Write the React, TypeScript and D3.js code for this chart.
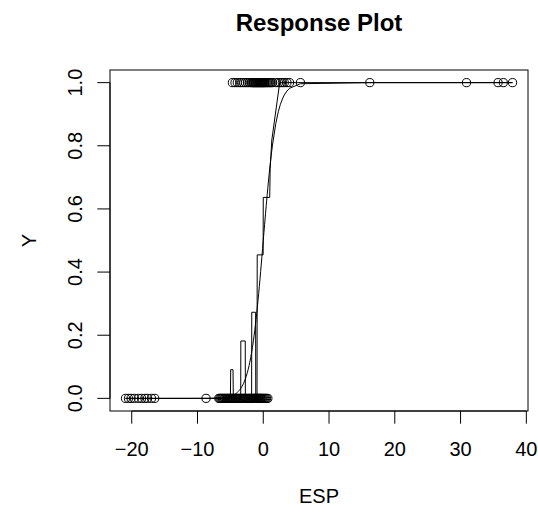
import React from "react";
import * as d3 from "d3";

// ESP values of cases with Y = 0
const esp0: number[] = [
  -20.95, -20.5, -20.1, -19.6, -19.0, -18.5, -18.0, -17.6, -17.0, -16.5,
  -8.7,
  -6.75, -6.6, -6.45, -6.3, -6.2, -6.05, -5.9, -5.8, -5.65, -5.5, -5.4, -5.25,
  -5.1, -5.0, -4.85, -4.7, -4.6, -4.45, -4.3, -4.2, -4.05, -3.9, -3.8, -3.65,
  -3.5, -3.4, -3.25, -3.1, -3.0, -2.85, -2.7, -2.6, -2.45, -2.3, -2.2, -2.05,
  -1.9, -1.8, -1.65, -1.5, -1.4, -1.3, -1.2, -1.1, -1.0, -0.9, -0.8, -0.7,
  -0.6, -0.5, -0.4, -0.3, -0.2, -0.1, 0.05, 0.2, 0.35, 0.5, 0.7,
];

// ESP values of cases with Y = 1
const esp1: number[] = [
  -4.7, -4.3, -3.95, -3.6, -3.3, -3.0, -2.7, -2.4, -2.15, -1.9, -1.75, -1.6,
  -1.5, -1.4, -1.3, -1.2, -1.1, -1.0, -0.9, -0.8, -0.7, -0.6, -0.5, -0.4,
  -0.3, -0.2, -0.1, 0.0, 0.1, 0.2, 0.3, 0.45, 0.6, 0.75, 0.9, 1.05, 1.2, 1.4,
  1.9, 2.3, 2.6, 2.9, 3.2, 3.6, 4.0, 5.65, 16.2, 30.9, 35.7, 36.5, 37.9,
];

// Step function of slice proportions (nodes of the polyline)
const stepX: number[] = [
  -20.95, -5.0, -4.95, -4.6, -4.55, -3.43, -3.41, -2.74, -2.72, -1.77, -1.75,
  -1.16, -1.14, -0.95, -0.92, -0.02, 0.0, 0.98, 1.05, 1.3, 2.5, 37.9,
];
const stepP: number[] = [
  0, 0, 0.0909, 0.0909, 0, 0, 0.1818, 0.1818, 0, 0, 0.2727, 0.2727, 0, 0,
  0.4545, 0.4545, 0.6364, 0.6364, 0.7273, 0.8182, 1, 1,
];

const xTicks: number[] = [-20, -10, 0, 10, 20, 30, 40];
const yTicks: number[] = [0, 0.2, 0.4, 0.6, 0.8, 1.0];

const W = 538;
const H = 512;
const L = 110, R = 528, T = 70, B = 411;
const FONT = "'Liberation Sans', Arial, Helvetica, sans-serif";

export default function App() {
  const allX = [...esp0, ...esp1];
  const xmin = d3.min(allX)!;
  const xmax = d3.max(allX)!;
  const xr = xmax - xmin;
  const x = d3.scaleLinear().domain([xmin - 0.04 * xr, xmax + 0.04 * xr]).range([L, R]);
  const y = d3.scaleLinear().domain([-0.04, 1.04]).range([B, T]);

  const sorted = [...allX].sort((a, b) => a - b);
  const logistic = (v: number) => 1 / (1 + Math.exp(-v));
  const curve = d3
    .line<number>()
    .x((d) => x(d))
    .y((d) => y(logistic(d)))(sorted)!;

  const step = d3
    .line<number>()
    .x((d) => x(d))
    .y((_, i) => y(stepP[i]))(stepX)!;

  const tickLen = 12.7;
  const fmt = (v: number) => (v < 0 ? "\u2212" + Math.abs(v) : String(v));

  return (
    <svg
      width={W}
      height={H}
      style={{ position: "absolute", left: 0, top: 0, background: "#fff" }}
      fontFamily={FONT}
    >
      <rect x={0} y={0} width={W} height={H} fill="#fff" />
      <text x={(L + R) / 2} y={30.5} textAnchor="middle" fontSize={24} fontWeight="bold">
        Response Plot
      </text>

      {/* lines */}
      <path d={step} fill="none" stroke="#000" strokeWidth={1} />
      <path d={curve} fill="none" stroke="#000" strokeWidth={1} />

      {/* points */}
      {esp0.map((v, i) => (
        <circle key={"a" + i} cx={x(v)} cy={y(0)} r={4.1} fill="none" stroke="#000" strokeWidth={1} />
      ))}
      {esp1.map((v, i) => (
        <circle key={"b" + i} cx={x(v)} cy={y(1)} r={4.1} fill="none" stroke="#000" strokeWidth={1} />
      ))}

      {/* box */}
      <rect x={L} y={T} width={R - L} height={B - T} fill="none" stroke="#000" strokeWidth={1} />

      {/* x axis */}
      <line x1={x(xTicks[0])} x2={x(xTicks[xTicks.length - 1])} y1={B} y2={B} stroke="#000" />
      {xTicks.map((t) => (
        <g key={"xt" + t}>
          <line x1={x(t)} x2={x(t)} y1={B} y2={B + tickLen} stroke="#000" />
          <text x={x(t)} y={456} textAnchor="middle" fontSize={20}>
            {fmt(t)}
          </text>
        </g>
      ))}

      {/* y axis */}
      <line x1={L} x2={L} y1={y(0)} y2={y(1)} stroke="#000" />
      {yTicks.map((t) => (
        <g key={"yt" + t}>
          <line x1={L} x2={L - tickLen} y1={y(t)} y2={y(t)} stroke="#000" />
          <text
            transform={`translate(${82},${y(t)}) rotate(-90)`}
            textAnchor="middle"
            fontSize={20}
          >
            {t.toFixed(1)}
          </text>
        </g>
      ))}

      <text x={(L + R) / 2} y={503} textAnchor="middle" fontSize={20}>
        ESP
      </text>
      <text transform={`translate(${36},${(T + B) / 2}) rotate(-90)`} textAnchor="middle" fontSize={20}>
        Y
      </text>
    </svg>
  );
}
